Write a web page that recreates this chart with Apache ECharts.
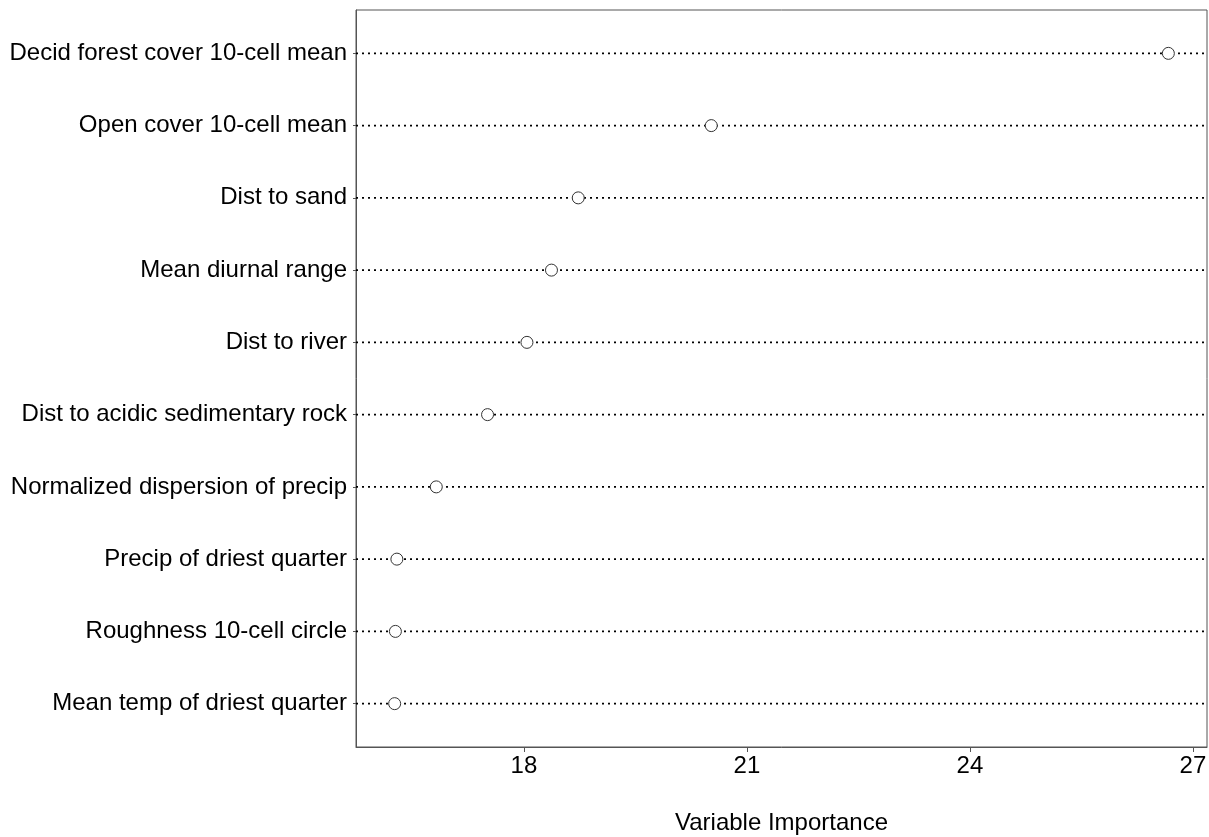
<!DOCTYPE html>
<html>
<head>
<meta charset="utf-8">
<script src="https://cdn.jsdelivr.net/npm/echarts@6/dist/echarts.min.js"></script>
<style>html,body{margin:0;padding:0;background:#fff}#c{width:1209px;height:837px}</style>
</head>
<body>
<div id="c"></div>
<script>
const categories = [
  "Decid forest cover 10-cell mean",
  "Open cover 10-cell mean",
  "Dist to sand",
  "Mean diurnal range",
  "Dist to river",
  "Dist to acidic sedimentary rock",
  "Normalized dispersion of precip",
  "Precip of driest quarter",
  "Roughness 10-cell circle",
  "Mean temp of driest quarter"
];
const importance = [26.67, 20.52, 18.73, 18.37, 18.04, 17.51, 16.82, 16.29, 16.27, 16.26];
const xTicks = [18, 21, 24, 27];

const rowIdx = categories.map((c, i) => i + 1);
const font = 'Arial, "Liberation Sans", sans-serif';
const chart = echarts.init(document.getElementById('c'), null, {renderer: 'canvas'});
chart.setOption({
  animation: false,
  backgroundColor: '#fff',
  grid: {left: 356, right: 2, top: 10, bottom: 90, show: true, borderColor: '#555', borderWidth: 1,
         containLabel: false, outerBoundsMode: 'none'},
  xAxis: {
    type: 'value', min: 15.74, max: 27.19,
    name: 'Variable Importance', nameLocation: 'middle', nameGap: 64,
    nameTextStyle: {fontFamily: font, fontSize: 24, color: '#000'},
    axisLine: {show: true, lineStyle: {color: '#555', width: 1}},
    axisTick: {show: true, customValues: xTicks, length: 5, lineStyle: {color: '#555'}},
    axisLabel: {customValues: xTicks, fontFamily: font, fontSize: 24, color: '#000', margin: 7},
    splitLine: {show: false}
  },
  yAxis: {
    type: 'value', min: 0.4, max: 10.6, inverse: true,
    axisLine: {show: true, lineStyle: {color: '#555', width: 1}},
    axisTick: {show: true, customValues: rowIdx, length: 3, lineStyle: {color: '#555'}},
    axisLabel: {customValues: rowIdx, formatter: v => categories[Math.round(v) - 1] || '', fontFamily: font, fontSize: 24, color: '#000', margin: 9},
    splitLine: {show: false}
  },
  series: [
    {
      type: 'custom', z: 1, silent: true,
      data: rowIdx.map(i => [importance[i - 1], i]),
      encode: {x: 0, y: 1},
      renderItem: function (params, api) {
        const cs = params.coordSys;
        const y = api.coord([api.value(0), api.value(1)])[1];
        return {
          type: 'line',
          shape: {x1: cs.x, y1: y, x2: cs.x + cs.width, y2: y},
          style: {stroke: '#000', lineWidth: 1.6, lineDash: [2, 4]}
        };
      }
    },
    {
      type: 'scatter', z: 3,
      data: importance.map((v, i) => [v, i + 1]),
      symbol: 'circle', symbolSize: 12,
      itemStyle: {color: '#fff', borderColor: '#333', borderWidth: 1, opacity: 1}
    }
  ]
});
</script>
</body>
</html>
